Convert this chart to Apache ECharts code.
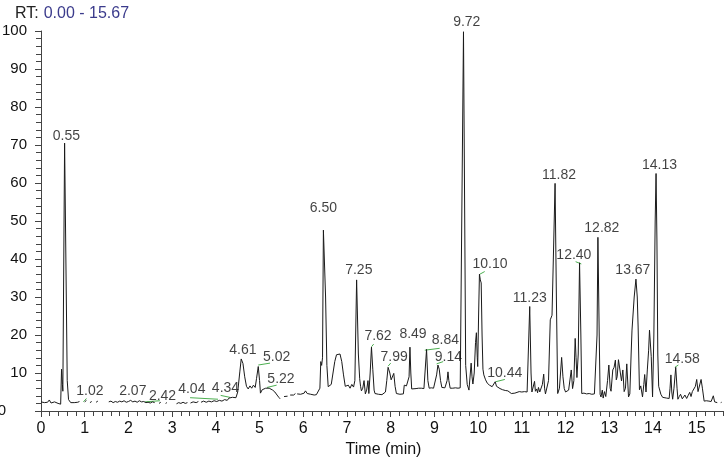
<!DOCTYPE html>
<html>
<head>
<meta charset="utf-8">
<script src="https://cdn.jsdelivr.net/npm/echarts@6/dist/echarts.min.js"></script>
<style>
  html, body { margin: 0; padding: 0; background: #fff; }
  #chart { width: 724px; height: 461px; }
</style>
</head>
<body>
<div id="chart"></div>
<script>
// retention time (min) and relative abundance; null = gap in trace
const rtMin = [
  0.00, 0.04, 0.08, 0.12, 0.15, 0.19, 0.23, 0.27, 0.31, 0.35, 0.39, 0.42, 0.45, 0.47, 0.49, 0.50, 0.54, 0.60, 0.63, 0.68, 0.72, 0.76, 0.80, 0.84, 0.88, 0.92,
  1.00, 1.04, 1.08, 1.12, 1.16, 1.20, 1.26, 1.30, 1.40,
  1.55, 1.60, 1.65, 1.70, 1.75, 1.80, 1.85, 1.90, 1.95, 2.00, 2.05, 2.10, 2.15, 2.20, 2.25, 2.30, 2.35, 2.40, 2.45, 2.50, 2.55, 2.60, 2.65,
  2.70, 2.74, 2.78, 2.85, 2.88, 3.00,
  3.10, 3.15, 3.20, 3.25, 3.30, 3.35, 3.38, 3.42, 3.48, 3.55, 3.60, 3.63,
  3.66, 3.72, 3.78, 3.84, 3.90, 3.96, 4.02, 4.08, 4.14, 4.20, 4.26, 4.30, 4.34, 4.38, 4.42, 4.46, 4.50, 4.55, 4.58, 4.62, 4.66, 4.70, 4.74, 4.78, 4.82, 4.86, 4.90, 4.93, 4.97, 5.00, 5.02, 5.06, 5.10, 5.14, 5.18, 5.22, 5.26, 5.30, 5.35, 5.40, 5.44, 5.47, 5.51,
  5.56, 5.60, 5.64, 5.67,
  5.70, 5.74, 5.78, 5.82, 5.84,
  5.86, 5.90, 5.94, 5.98, 6.02, 6.05, 6.09, 6.13, 6.17, 6.20, 6.25, 6.30, 6.34, 6.38, 6.40, 6.42, 6.44, 6.46, 6.51, 6.54, 6.57, 6.60, 6.64, 6.68, 6.72, 6.76, 6.80, 6.84, 6.88, 6.92, 6.96, 6.99,
  7.03, 7.07, 7.11, 7.15, 7.18, 7.22, 7.26, 7.29, 7.31, 7.33, 7.36, 7.39, 7.42, 7.45, 7.48, 7.50, 7.53, 7.56, 7.59, 7.62, 7.64, 7.68, 7.72, 7.76, 7.80, 7.84, 7.88, 7.91, 7.94, 7.98,
  8.01, 8.04, 8.07, 8.10, 8.13, 8.17, 8.21, 8.25, 8.29, 8.31, 8.33, 8.36, 8.39, 8.42, 8.44, 8.46, 8.48, 8.52, 8.58, 8.64, 8.70, 8.76, 8.79, 8.82, 8.85, 8.88, 8.93, 8.98,
  9.02, 9.05, 9.08, 9.11, 9.14, 9.17, 9.20, 9.24, 9.27, 9.29, 9.31, 9.33, 9.36, 9.42, 9.48, 9.54, 9.59, 9.62, 9.665, 9.715, 9.75, 9.79, 9.81, 9.84, 9.86, 9.88, 9.91, 9.94, 9.96, 9.98, 9.99,
  10.01, 10.03, 10.05, 10.07, 10.09, 10.11, 10.13, 10.17, 10.21, 10.26, 10.32, 10.36, 10.39, 10.42, 10.45, 10.50, 10.56, 10.62, 10.68, 10.72, 10.76, 10.80, 10.84, 10.88, 10.94,
  11.00, 11.06, 11.12, 11.15, 11.18, 11.21, 11.23, 11.26, 11.29, 11.31, 11.34, 11.36, 11.38, 11.41, 11.44, 11.47, 11.50, 11.52, 11.54, 11.58, 11.61, 11.65, 11.69, 11.72, 11.76, 11.79, 11.82, 11.86, 11.91, 11.94, 11.97,
  12.00, 12.03, 12.07, 12.10, 12.13, 12.16, 12.19, 12.22, 12.24, 12.26, 12.29, 12.32, 12.35, 12.37, 12.42, 12.48, 12.54, 12.60, 12.66, 12.70, 12.72, 12.74, 12.77, 12.79, 12.81, 12.84, 12.86, 12.89, 12.92, 12.96, 12.99,
  13.02, 13.04, 13.08, 13.11, 13.14, 13.16, 13.18, 13.21, 13.24, 13.28, 13.31, 13.34, 13.37, 13.40, 13.44, 13.47, 13.50, 13.52, 13.57, 13.61, 13.64, 13.66, 13.69, 13.72, 13.76, 13.79, 13.81, 13.84, 13.87, 13.90, 13.92, 13.96, 13.99,
  14.02, 14.05, 14.07, 14.09, 14.11, 14.13, 14.18, 14.22, 14.26, 14.31, 14.37, 14.39, 14.41, 14.43, 14.45, 14.48, 14.52, 14.55, 14.57, 14.60, 14.63, 14.67, 14.70, 14.73, 14.77, 14.80, 14.84, 14.87, 14.90, 14.94, 14.97,
  15.00, 15.03, 15.06, 15.10, 15.13, 15.17, 15.22, 15.28, 15.33, 15.36, 15.38, 15.41, 15.47, 15.51, 15.55, 15.57
];
const abundance = [
  2.4, 2.8, 2.2, 2.6, 2.3, 2.9, 2.1, 2.6, 2.4, 2.7, 2.0, 2.3, 1.8, 11.0, 7.0, 5.2, 70.5, 8.0, 3.0, 2.2, 2.5, 2.2, 2.6, 2.3, 2.5, null,
  2.4, 2.8, null, 2.2, 2.5, null, 2.3, 2.6, null,
  2.4, 2.6, 2.2, 2.5, 2.3, 2.6, 2.4, 2.7, 2.3, 2.5, 2.8, 2.4, 2.6, 2.3, 2.7, 2.4, 2.5, 2.2, 2.3, 2.1, 2.4, 2.2, null,
  2.0, 2.3, null, 2.0, 2.2, null,
  1.9, 2.2, 2.0, 2.3, 2.0, 2.2, null, 2.1, 2.4, 2.2, 2.5, null,
  2.3, 2.6, 2.3, 2.6, 2.4, 2.7, 2.5, 2.8, 2.6, 3.0, 2.8, 3.4, 3.1, 3.6, 3.3, 3.5, 5.0, 10.5, 13.7, 12.5, 9.0, 6.5, 5.8, 6.6, 6.0, 6.8, 6.2, 8.5, 11.7, 8.0, 4.7, 5.6, 5.4, 6.0, 6.3, 6.0, 6.2, 5.5, 5.0, 4.2, 3.6, 3.2, null,
  3.8, 4.1, 3.9, null,
  4.2, 4.5, 4.2, 4.6, null,
  4.5, 4.8, 4.4, 4.9, 4.7, 5.3, 4.6, 4.9, 4.4, 4.6, 4.2, 4.3, 4.6, 6.0, 13.0, 12.0, 14.0, 47.6, 30.0, 12.0, 6.4, 6.0, 7.0, 10.0, 13.0, 14.8, 15.3, 15.0, 13.0, 9.5, 6.5, 6.0,
  6.8, 6.0, 7.0, 6.3, 8.0, 34.5, 15.0, 8.5, 6.5, 5.3, 6.0, 8.0, 4.5, 5.5, 8.0, 4.6, 10.0, 16.8, 11.0, 5.5, 4.6, 4.9, 4.4, 4.7, 4.3, 4.6, 5.0, 8.0, 11.5, 10.0,
  8.2, 8.6, 9.9, 6.5, 4.6, 4.9, 4.4, 4.6, 4.5, 6.8, 7.3, 6.6, 7.0, 9.0, 16.8, 10.0, 5.8, 6.0, 5.9, 6.0, 6.0, 5.9, 6.2, 16.2, 8.0, 6.0, 6.1, 6.0,
  6.5, 9.5, 12.1, 11.0, 8.0, 6.2, 6.0, 6.1, 6.0, 8.0, 10.3, 8.0, 6.0, 6.0, 6.1, 6.0, 6.1, 6.1, 99.8, 12.0, 7.0, 5.5, 6.0, 12.6, 9.0, 7.1, 10.0, 18.0, 20.6, 14.0, 11.7,
  25.0, 36.0, 34.5, 33.7, 20.0, 11.0, 9.5, 8.2, 7.3, 6.8, 6.4, 6.6, 7.7, 6.5, 6.0, 5.9, 5.6, 5.4, 5.3, 5.1, 4.6, 4.9, 4.7, 5.0, 5.1,
  5.0, 5.1, 5.0, 5.3, 27.5, 10.0, 5.0, 5.5, 7.8, 5.2, 5.8, 4.8, 6.2, 5.0, 5.3, 7.0, 9.7, 6.0, 4.5, 5.0, 8.0, 24.0, 25.2, 40.0, 59.9, 30.0, 4.6, 6.0, 14.1, 9.0, 5.9,
  5.0, 4.6, 5.5, 6.0, 10.8, 5.9, 8.0, 19.1, 14.0, 8.8, 15.0, 39.0, 20.0, 4.6, 4.7, 4.5, 4.6, 4.4, 4.5, 4.6, 20.0, 45.7, 20.0, 4.4, 3.7, 5.5, 3.4, 5.1, 3.8, 8.0, 12.1,
  6.0, 5.2, 10.8, 11.5, 13.4, 8.2, 9.0, 13.5, 13.2, 7.9, 10.8, 5.1, 6.0, 12.4, 3.7, 4.5, 15.0, 21.3, 30.0, 34.7, 30.0, 22.1, 5.6, 6.6, 3.7, 7.0, 9.6, 5.0, 10.8, 16.0, 21.3, 14.3, 3.7,
  20.0, 50.0, 62.5, 45.0, 15.0, 6.5, 4.4, 3.6, 3.3, 3.4, 3.3, 6.0, 9.5, 5.0, 3.1, 6.0, 11.5, 6.0, 3.1, 3.8, 4.4, 3.2, 3.6, 4.2, 3.3, 4.0, 4.9, 3.8, 5.1, 5.1, 6.5,
  8.3, 5.1, 5.5, 8.3, 6.0, 2.6, 2.7, 2.6, 2.5, 3.0, 4.0, 2.4, 2.2, null, 2.2, 2.3
];

// peak labels: text and where each label sits (time, abundance)
const peakText = ['0.55', '1.02', '2.07', '2.42', '4.04', '4.34', '4.61', '5.02', '5.22', '6.50', '7.25', '7.62', '7.99',
  '8.49', '8.84', '9.14', '9.72', '10.10', '10.44', '11.23', '11.82', '12.40', '12.82', '13.67', '14.13', '14.58'];
const peakLabelRT = [0.58, 1.12, 2.10, 2.78, 3.45, 4.22, 4.62, 5.39, 5.49, 6.46, 7.27, 7.71, 8.08,
  8.51, 9.25, 9.32, 9.74, 10.27, 10.61, 11.18, 11.85, 12.19, 12.83, 13.54, 14.15, 14.67];
const peakLabelAb = [72.4, 5.3, 5.3, 3.9, 5.8, 6.1, 16.1, 14.3, 8.4, 53.4, 37.1, 19.6, 14.3,
  20.2, 18.7, 14.3, 102.2, 38.7, 9.9, 29.7, 62.1, 41.1, 48.1, 37.1, 64.7, 13.6];

// green peak marker strokes: [rt1, ab1, rt2, ab2]
const markStrokes = [
  [0.97, 2.4, 1.04, 3.3], [2.38, 2.4, 2.72, 2.7], [3.41, 3.5, 4.05, 3.1], [4.11, 4.1, 4.32, 3.6],
  [4.97, 12.1, 5.24, 12.6], [5.17, 6.2, 5.39, 6.8], [7.56, 16.9, 7.61, 17.6], [7.94, 11.8, 8.00, 12.6],
  [8.78, 16.0, 9.12, 16.5], [9.05, 12.4, 9.20, 13.0], [10.04, 36.0, 10.15, 36.7], [10.40, 7.7, 10.61, 8.3],
  [12.23, 39.3, 12.36, 38.7], [14.50, 11.5, 14.58, 12.1]
];

const FONT = '"Liberation Sans", Arial, sans-serif';

const traceData = rtMin.map((t, i) => [t, abundance[i] == null ? '-' : abundance[i]]);
const labelData = peakText.map((s, i) => ({ value: [peakLabelRT[i], peakLabelAb[i]], name: s }));

const strokeSeries = markStrokes.map(s => ({
  type: 'line',
  data: [[s[0], s[1]], [s[2], s[3]]],
  showSymbol: false,
  silent: true,
  clip: false,
  lineStyle: { color: '#4caf50', width: 1 },
  z: 3
}));

const chart = echarts.init(document.getElementById('chart'));
chart.setOption({
  animation: false,
  backgroundColor: '#ffffff',
  title: {
    text: '{a|RT:} {b|0.00 - 15.67}',
    left: 10,
    top: 0,
    textStyle: {
      fontWeight: 'normal',
      rich: {
        a: { fontFamily: FONT, fontSize: 16, fontWeight: 'normal', color: '#222' },
        b: { fontFamily: FONT, fontSize: 16, fontWeight: 'normal', color: '#3b3b8c' }
      }
    }
  },
  grid: { left: 41, right: -2, top: 31, bottom: 50, outerBoundsMode: 'none', containLabel: false },
  xAxis: {
    type: 'value',
    min: 0,
    max: 15.67,
    interval: 1,
    name: 'Time (min)',
    nameLocation: 'middle',
    nameGap: 30,
    nameTextStyle: { fontFamily: FONT, fontSize: 16, color: '#111' },
    axisLine: { lineStyle: { color: '#444', width: 1 } },
    axisTick: { show: true, length: 6, lineStyle: { color: '#444' } },
    minorTick: { show: true, splitNumber: 5, length: 5, lineStyle: { color: '#444' } },
    axisLabel: { fontFamily: FONT, fontSize: 16, color: '#111', margin: 10, showMaxLabel: false },
    splitLine: { show: false }
  },
  yAxis: {
    type: 'value',
    min: 0,
    max: 100,
    interval: 10,
    axisLine: { show: true, lineStyle: { color: '#444', width: 1 } },
    axisTick: { show: true, length: 6, lineStyle: { color: '#444' } },
    minorTick: { show: true, splitNumber: 5, length: 5, lineStyle: { color: '#444' } },
    axisLabel: {
      fontFamily: FONT, fontSize: 15, color: '#111', margin: 14,
      formatter: v => (v === 0 ? '{z|0}' : String(v)),
      rich: { z: { fontFamily: FONT, fontSize: 15, color: '#111', padding: [0, 21, 0, 0] } }
    },
    splitLine: { show: false }
  },
  series: [
    {
      name: 'TIC',
      type: 'line',
      data: traceData,
      showSymbol: false,
      connectNulls: false,
      clip: false,
      lineStyle: { color: '#1a1a1a', width: 1 },
      z: 4
    },
    ...strokeSeries,
    {
      name: 'peaks',
      type: 'scatter',
      data: labelData,
      symbolSize: 0,
      clip: false,
      silent: true,
      label: {
        show: true,
        position: 'inside',
        formatter: p => p.name,
        fontFamily: FONT,
        fontSize: 14,
        color: '#111'
      },
      z: 5
    }
  ]
});
</script>
</body>
</html>
